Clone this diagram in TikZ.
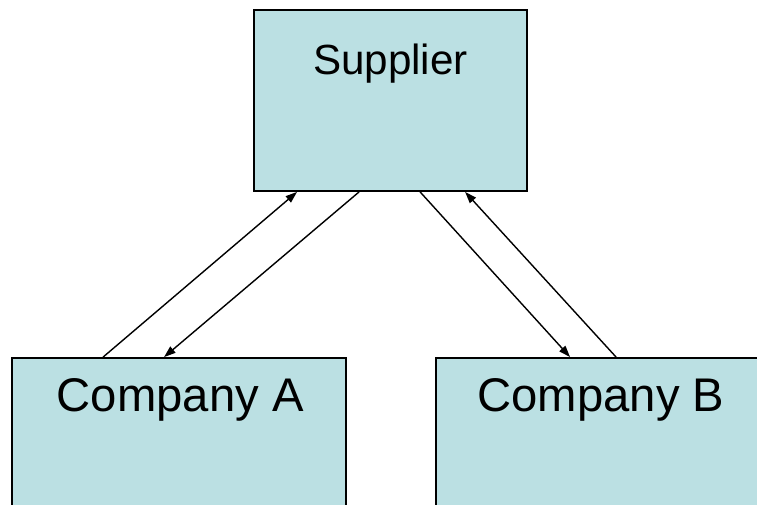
\documentclass[tikz,border=0pt]{standalone}
\usepackage{fontspec}
\setmainfont{Liberation Sans}
\usetikzlibrary{arrows.meta, calc, positioning}
\definecolor{boxcyan}{RGB}{187,224,227}

\begin{document}
\begin{tikzpicture}[>={Triangle[length=2.9mm, width=2mm]}]
    \tikzset{
        party/.style={draw=black, line width=1.3pt, fill=boxcyan, rectangle,
            minimum width=#1, minimum height=4.525cm, inner sep=0pt},
        flow/.style={->, line width=1pt}
    }
    \useasboundingbox (0,0) rectangle (18.925,12.625);

    % Boxes
    \node[party=6.825cm] (sup) at (9.7625,10.1125) {};
    \node[party=8.35cm] (compA) at (4.475,1.4125) {};
    \node[party=8.35cm] (compB) at (15.075,1.4125) {};

    % Titles
    \node[font=\fontsize{30}{36}\selectfont, anchor=base] (supT) at ($(sup.north)+(0,-1.625)$) {Supplier};
    \node[font=\fontsize{33.6}{40}\selectfont, anchor=base] (compAT) at ($(compA.north)+(0.03,-1.35)$) {Company A};
    \node[font=\fontsize{33.6}{40}\selectfont, anchor=base] (compBT) at ($(compB.north)+(-0.05,-1.35)$) {Company B};

    % Attachment points
    \coordinate (s1) at ($(sup.south west)+(1.1,0)$);
    \coordinate (s2) at ($(sup.south west)+(2.65,0)$);
    \coordinate (s3) at ($(sup.south west)+(4.175,0)$);
    \coordinate (s4) at ($(sup.south west)+(5.3,0)$);
    \coordinate (a1) at ($(compA.north west)+(2.3,0)$);
    \coordinate (a2) at ($(compA.north west)+(3.825,0)$);
    \coordinate (b1) at ($(compB.north west)+(3.375,0)$);
    \coordinate (b2) at ($(compB.north west)+(4.525,0)$);

    % Flows
    \draw[flow] (a1) -- (s1);
    \draw[flow] (s2) -- (a2);
    \draw[flow] (s3) -- (b1);
    \draw[flow] (b2) -- (s4);
\end{tikzpicture}
\end{document}
